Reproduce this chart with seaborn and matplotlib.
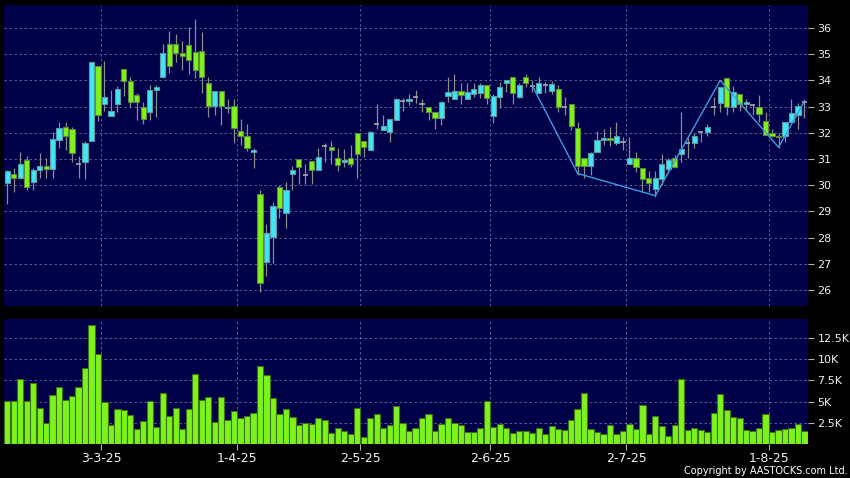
import numpy as np
import pandas as pd
import seaborn as sns
import matplotlib
matplotlib.use("Agg")
import matplotlib.pyplot as plt

# HK trading days, Feb 10 2025 .. Aug 8 2025
holidays = ["2025-04-04", "2025-04-18", "2025-04-21", "2025-05-01", "2025-05-05", "2025-07-01"]
dates = pd.bdate_range("2025-02-10", "2025-08-08")
dates = dates[~dates.isin(pd.to_datetime(holidays))]

opens = [30.07, 30.41, 30.26, 30.95, 30.11, 30.58, 30.75, 30.61, 31.73, 32.21,
         32.13, 30.80, 30.90, 31.70, 34.54, 33.09, 32.65, 33.09, 34.42, 33.96,
         33.44, 33.00, 32.81, 33.62, 34.12, 35.41, 35.41, 35.06, 35.34, 35.07,
         35.11, 33.89, 33.01, 33.58, 32.93, 33.01, 32.07, 31.88, 31.25, 29.65,
         27.08, 28.01, 29.92, 28.93, 30.41, 31.01, 30.39, 30.91, 30.57, 31.50,
         31.45, 31.05, 30.87, 31.03, 32.00, 31.70, 31.34, 32.35, 32.12, 32.04,
         32.48, 33.20, 33.20, 33.35, 33.11, 33.00, 32.81, 32.55, 33.42, 33.30,
         33.61, 33.28, 33.47, 33.53, 33.81, 32.64, 33.35, 33.91, 34.12, 33.35,
         34.12, 33.80, 33.51, 33.81, 33.58, 33.66, 32.97, 33.11, 32.20, 31.05,
         30.75, 31.25, 31.74, 31.81, 31.60, 31.66, 30.80, 31.03, 30.64, 30.26,
         29.84, 30.24, 30.62, 31.03, 31.18, 31.60, 31.60, 32.02, 32.02, 32.99,
         33.12, 34.10, 33.00, 33.47, 33.10, 33.06, 33.00, 32.46, 31.98, 31.89,
         31.89, 32.42, 32.68, 33.19]
highs = [30.58, 30.64, 31.27, 31.11, 30.64, 31.22, 31.03, 32.02, 32.40, 32.40,
         32.22, 31.11, 31.69, 34.72, 34.54, 34.74, 33.63, 33.79, 34.42, 34.13,
         33.53, 33.19, 33.81, 33.81, 35.41, 35.89, 35.76, 35.50, 36.03, 36.34,
         35.85, 34.12, 33.58, 33.58, 33.28, 33.28, 32.51, 32.34, 31.41, 29.82,
         28.52, 29.37, 30.01, 30.13, 30.72, 31.01, 30.80, 30.91, 31.43, 31.62,
         31.69, 31.41, 31.38, 31.53, 32.00, 31.70, 32.07, 33.10, 32.68, 32.51,
         33.34, 33.32, 33.47, 33.63, 33.29, 33.00, 32.81, 33.19, 34.14, 34.23,
         33.89, 33.89, 33.91, 33.91, 33.81, 33.47, 33.93, 34.00, 34.12, 33.91,
         34.23, 34.00, 34.12, 33.95, 33.98, 33.82, 33.35, 33.11, 32.43, 31.05,
         31.28, 32.07, 32.15, 32.22, 32.43, 31.85, 31.85, 31.28, 30.64, 30.54,
         30.54, 31.18, 31.05, 31.15, 32.78, 31.81, 31.98, 32.05, 32.32, 33.35,
         33.76, 34.10, 33.79, 33.47, 33.28, 33.09, 33.44, 32.81, 32.15, 31.98,
         32.42, 33.29, 33.12, 33.29]
lows = [29.27, 29.73, 30.26, 29.80, 29.80, 30.26, 30.29, 30.29, 31.43, 31.34,
        30.90, 30.29, 30.24, 31.70, 32.46, 32.83, 32.65, 32.78, 33.42, 33.00,
        32.49, 32.32, 32.49, 32.62, 34.12, 34.30, 34.72, 34.40, 34.24, 34.08,
        33.51, 32.62, 32.68, 32.30, 32.77, 31.60, 31.53, 31.32, 30.64, 25.91,
        26.55, 27.02, 28.76, 28.38, 29.80, 30.05, 30.05, 30.05, 30.57, 30.90,
        30.80, 30.55, 30.71, 30.71, 30.26, 31.06, 31.34, 32.15, 32.12, 31.66,
        32.48, 32.83, 33.06, 33.15, 32.78, 32.49, 32.15, 32.30, 33.19, 33.30,
        33.11, 33.28, 33.38, 33.32, 33.11, 32.36, 32.96, 33.57, 33.11, 33.32,
        33.74, 33.57, 33.51, 33.51, 33.48, 32.81, 32.68, 32.11, 30.39, 30.26,
        30.39, 31.25, 31.53, 31.51, 31.53, 31.34, 30.80, 30.52, 29.79, 29.73,
        29.56, 30.01, 30.52, 30.64, 30.90, 31.03, 31.43, 31.66, 31.88, 32.68,
        32.81, 32.68, 32.81, 32.83, 32.83, 32.68, 32.42, 31.92, 31.85, 31.43,
        31.64, 32.42, 32.15, 32.55]
closes = [30.54, 30.26, 30.80, 29.92, 30.58, 30.75, 30.62, 31.75, 32.17, 31.88,
          31.22, 30.80, 31.60, 34.69, 32.67, 33.35, 32.82, 33.66, 33.96, 33.19,
          33.19, 32.51, 33.62, 33.74, 35.03, 34.56, 35.03, 34.94, 34.79, 34.38,
          34.12, 33.01, 33.58, 33.01, 33.00, 32.20, 31.89, 31.43, 31.34, 26.25,
          28.16, 29.21, 29.12, 29.80, 30.57, 30.71, 30.39, 30.57, 31.06, 31.50,
          31.33, 30.76, 30.96, 30.80, 31.18, 31.45, 32.02, 32.35, 32.25, 32.51,
          33.28, 33.20, 33.30, 33.35, 33.11, 32.81, 32.55, 33.16, 33.57, 33.61,
          33.43, 33.57, 33.66, 33.81, 33.32, 33.42, 33.74, 34.00, 33.51, 33.81,
          33.89, 33.80, 33.91, 33.81, 33.86, 32.97, 32.97, 32.26, 30.75, 30.75,
          31.22, 31.73, 31.81, 31.71, 31.87, 31.66, 31.03, 30.71, 30.24, 30.07,
          30.26, 30.80, 30.96, 30.71, 31.37, 31.60, 31.89, 32.02, 32.21, 32.99,
          33.76, 33.00, 33.57, 33.11, 33.19, 33.06, 32.72, 31.92, 31.88, 31.83,
          32.42, 32.74, 33.03, 33.19]
volumes = [5.06, 5.06, 7.69, 5.06, 7.14, 4.20, 2.51, 5.80, 6.70, 5.25,
           5.69, 6.75, 8.94, 14.08, 10.67, 4.94, 2.27, 4.08, 4.00, 3.45,
           1.76, 2.75, 5.02, 2.00, 5.96, 3.33, 4.27, 1.76, 4.16, 8.27,
           5.25, 5.49, 2.59, 5.57, 2.82, 3.84, 3.02, 3.29, 3.61, 9.25,
           8.16, 5.41, 3.57, 4.12, 3.14, 2.24, 2.43, 2.31, 3.10, 2.78,
           1.33, 1.92, 1.49, 1.22, 4.24, 0.78, 3.02, 3.57, 1.88, 2.24,
           4.47, 2.47, 1.57, 1.88, 3.10, 3.49, 1.49, 2.31, 3.02, 2.51,
           2.20, 1.41, 1.37, 1.88, 5.10, 1.96, 2.31, 1.84, 1.33, 1.57,
           1.53, 1.33, 1.84, 1.22, 2.12, 1.76, 1.69, 2.86, 4.08, 6.04,
           1.80, 1.37, 1.18, 2.20, 1.18, 1.49, 2.31, 1.76, 4.63, 1.14,
           3.33, 2.16, 0.98, 2.27, 7.65, 1.61, 1.92, 1.69, 1.41, 3.61,
           5.92, 4.04, 3.14, 3.10, 1.65, 1.57, 1.88, 3.53, 1.41, 1.69,
           1.73, 1.88, 2.35, 1.53]

# zigzag overlay (day index, price)
zz_day = [81, 88, 100, 110, 119, 123]
zz_price = [33.8, 30.45, 29.6, 34.0, 31.45, 33.2]

price_ticks = [26, 27, 28, 29, 30, 31, 32, 33, 34, 35, 36]
vol_ticks = [2.5, 5, 7.5, 10, 12.5]
vol_labels = ["2.5K", "5K", "7.5K", "10K", "12.5K"]

df = pd.DataFrame({"date": dates, "open": opens, "high": highs, "low": lows,
                   "close": closes, "vol": volumes})
df["pos"] = np.arange(len(df))

bg = "#000048"
cyan = "#3ee6f6"
green = "#7ef21c"
grid_kw = dict(color="#6a6aa0", linestyle=(0, (3, 3)), linewidth=0.6)

fig = plt.figure(figsize=(8.5, 4.78), dpi=100, facecolor="black")
ax = fig.add_axes([4 / 850, 1 - 306 / 478, 803.7 / 850, 301 / 478], facecolor=bg)
axv = fig.add_axes([4 / 850, 1 - 444 / 478, 803.7 / 850, 125 / 478], facecolor=bg)

# candles
up = df[df.close > df.open]
dn = df[df.close < df.open]
flat = df[df.close == df.open]
ax.vlines(df.pos, df.low, df.high, color="#8c8c8c", lw=0.9, zorder=2)
ax.bar(up.pos, up.close - up.open, bottom=up.open, width=0.8,
       color=cyan, edgecolor="#5a9aa0", linewidth=0.8, zorder=3)
ax.bar(dn.pos, dn.open - dn.close, bottom=dn.close, width=0.8,
       color=green, edgecolor="#5b8a3c", linewidth=0.8, zorder=3)
ax.hlines(flat.close, flat.pos - 0.4, flat.pos + 0.4, color="#a8a8a8", lw=1.2, zorder=3)
sns.lineplot(x=zz_day, y=zz_price, color="#3a9ee2", lw=1, ax=ax, zorder=4)

# volume
sns.barplot(x=df.pos, y=df.vol, native_scale=True, color=green, saturation=1,
            edgecolor="#3b7414", linewidth=0.8, width=0.96, errorbar=None, ax=axv)

# month ticks at the first trading day of each month
firsts = df.groupby(df.date.dt.to_period("M")).pos.min().iloc[1:]
tick_pos = firsts.values - 0.5
tick_lab = [f"{d.day}-{d.month}-{d.year % 100}" for d in df.date[firsts.values]]

for a in (ax, axv):
    a.set_xlim(-0.5, len(df) - 0.5)
    a.set_xticks(tick_pos)
    a.grid(True, **grid_kw)
    a.set_axisbelow(True)
    a.yaxis.tick_right()
    a.tick_params(axis="y", color="#b0b0b0", labelcolor="#f0f0f0", labelsize=8,
                  length=4, width=0.8, pad=3)
    for s in a.spines.values():
        s.set_visible(False)
    a.set_xlabel("")
    a.set_ylabel("")

ax.set_ylim(25.39, 36.88)
ax.set_yticks(price_ticks)
ax.tick_params(axis="x", length=0, labelbottom=False)

axv.set_ylim(0, 14.75)
axv.set_yticks(vol_ticks)
axv.set_yticklabels(vol_labels)
axv.set_xticklabels(tick_lab)
axv.tick_params(axis="x", color="#b0b0b0", labelcolor="#f0f0f0", labelsize=9,
                length=4, width=0.8, pad=2)

fig.text(848 / 850, 1 - 471 / 478, "Copyright by AASTOCKS.com Ltd.", ha="right",
         va="center", color="white", fontsize=7)

fig.savefig("out.png", dpi=100, facecolor="black")
